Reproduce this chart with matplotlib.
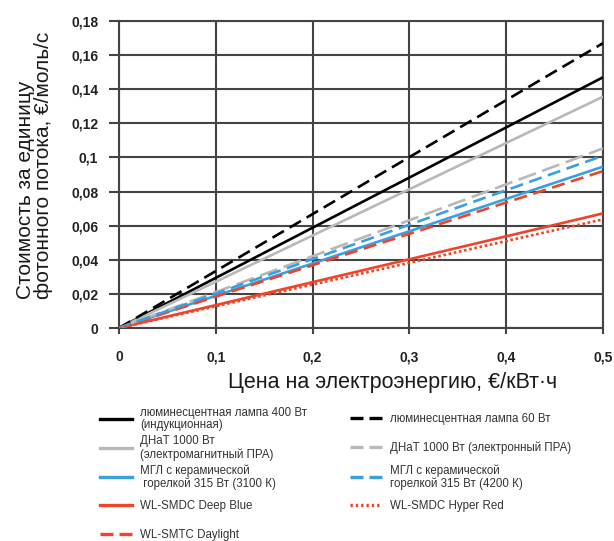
import matplotlib
matplotlib.use('Agg')
import matplotlib.pyplot as plt
from matplotlib.lines import Line2D

plt.rcParams['font.family'] = ['Liberation Sans', 'DejaVu Sans']

# electricity price, EUR/kWh
price = [0.0, 0.5]

# cost per unit photon flux, EUR/mol/s
lum400 = [0.0, 0.147]
lum60 = [0.0, 0.167]
dnat_em = [0.0, 0.1356]
dnat_el = [0.0, 0.1053]
mgl3100 = [0.0, 0.0946]
mgl4200 = [0.0, 0.101]
deep_blue = [0.0, 0.0672]
hyper_red = [0.0, 0.0637]
daylight = [0.0, 0.092]

x_ticks = [0, 0.1, 0.2, 0.3, 0.4, 0.5]
x_tick_labels = ['0', '0,1', '0,2', '0,3', '0,4', '0,5']
y_ticks = [0, 0.02, 0.04, 0.06, 0.08, 0.1, 0.12, 0.14, 0.16, 0.18]
y_tick_labels = ['0', '0,02', '0,04', '0,06', '0,08', '0,1', '0,12', '0,14', '0,16', '0,18']

BLACK = '#000000'
GRAY = '#b8b8b8'
BLUE = '#3a9fe0'
RED = '#f0442a'
GRID = '#444444'

DASH = (0, (5, 2.5))
LONG_DASH = (0, (7, 2.5))
DOT = (0, (1, 1))

W, H = 614, 541
fig = plt.figure(figsize=(W / 100, H / 100), dpi=100)
ax = fig.add_axes([119 / W, 1 - 328 / H, (603 - 119) / W, (328 - 21) / H])

series = [
    # (values, colour, linestyle, legend label, column, row)
    (lum400, BLACK, '-', 'люминесцентная лампа 400 Вт\n(индукционная)', 0, 0),
    (dnat_em, GRAY, '-', 'ДНаТ 1000 Вт\n(электромагнитный ПРА)', 0, 1),
    (mgl3100, BLUE, '-', 'МГЛ с керамической\n горелкой 315 Вт (3100 К)', 0, 2),
    (deep_blue, RED, '-', 'WL-SMDC Deep Blue', 0, 3),
    (daylight, RED, DASH, 'WL-SMTC Daylight', 0, 4),
    (lum60, BLACK, DASH, 'люминесцентная лампа 60 Вт', 1, 0),
    (dnat_el, GRAY, LONG_DASH, 'ДНаТ 1000 Вт (электронный ПРА)', 1, 1),
    (mgl4200, BLUE, DASH, 'МГЛ с керамической\nгорелкой 315 Вт (4200 К)', 1, 2),
    (hyper_red, RED, DOT, 'WL-SMDC Hyper Red', 1, 3),
]

for vals, col, ls, lab, c, r in series:
    ax.plot(price, vals, color=col, linestyle=ls, lw=1.9, solid_capstyle='butt', zorder=3)

ax.set_xlim(0, 0.5)
ax.set_ylim(0, 0.18)
ax.set_xticks(x_ticks)
ax.set_xticklabels(x_tick_labels)
ax.set_yticks(y_ticks)
ax.set_yticklabels(y_tick_labels)
ax.grid(True, color=GRID, lw=1.5)
ax.set_axisbelow(True)
for sp in ax.spines.values():
    sp.set_color(GRID)
    sp.set_linewidth(1.5)
ax.tick_params(axis='both', colors=GRID, width=1.5, labelcolor='#222222',
               labelsize=10)
ax.tick_params(axis='y', length=7, pad=8)
ax.tick_params(axis='x', length=4, pad=12)
for t in ax.get_xticklabels() + ax.get_yticklabels():
    t.set_fontweight('bold')

ax.set_xlabel('Цена на электроэнергию, €/кВт·ч', fontsize=15.5, color='#1a1a1a')
ax.xaxis.set_label_coords(0.566, -0.143)
ax.set_ylabel('Стоимость за единицу\nфотонного потока, €/моль/с', fontsize=15,
              color='#1a1a1a', linespacing=0.95, multialignment='left')
ax.yaxis.set_label_coords(-0.136, 0.531)

# legend handles use shorter dashes so two dashes fit, as in the original
legend_ls = {'-': '-', DASH: (0, (3.9, 1.8)), LONG_DASH: (0, (3.9, 1.8)),
             DOT: (0, (0.7, 0.9))}

# legend: one small legend per cell so that the rows line up across columns
col_x = [100, 350]
row_y = [419, 448, 477, 506, 535]
for vals, col, ls, lab, c, r in series:
    h = Line2D([], [], color=col, linestyle=legend_ls[ls], lw=2.4)
    leg = fig.legend(handles=[h], labels=[lab], loc='center left',
                     bbox_to_anchor=(col_x[c] / W, 1 - row_y[r] / H),
                     frameon=False, fontsize=8.3, borderpad=0, borderaxespad=0,
                     handlelength=2.8, handletextpad=0.65, labelspacing=0,
                     labelcolor='#333333')
    for t in leg.get_texts():
        t.set_linespacing(1.1)

fig.savefig('out.png', dpi=100)
